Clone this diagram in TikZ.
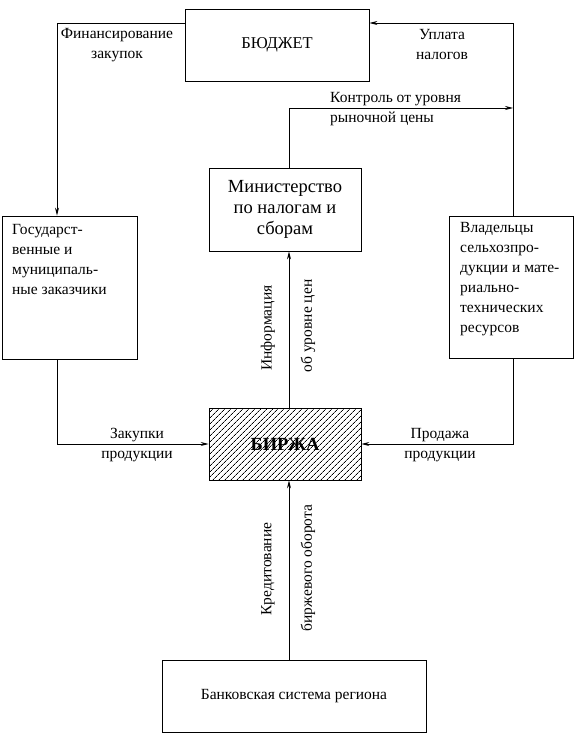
\documentclass[tikz,border=0pt]{standalone}
\usepackage{fontspec}
\setmainfont{Liberation Serif}
\usetikzlibrary{arrows.meta,patterns.meta}
\begin{document}
\begin{tikzpicture}[x=1pt,y=-1pt,
  box/.style={draw,line width=0.8pt,inner sep=0pt},
  conn/.style={line width=0.8pt},
  arr/.style={conn,-{Stealth[length=8pt,width=4pt]}},
  lbl/.style={inner sep=0pt,align=center,font=\fontsize{15.5}{20}\selectfont},
  lbll/.style={inner sep=0pt,align=left,font=\fontsize{15.5}{20}\selectfont},
]
\useasboundingbox (0,0) rectangle (579,735);
% boxes
\node[box,minimum width=184pt,minimum height=72pt,font=\fontsize{16.5}{20}\selectfont] (budget) at (277,45) {БЮДЖЕТ};
\node[box,minimum width=152pt,minimum height=83pt,align=center,font=\fontsize{18.5}{21}\selectfont] (min) at (285,209.5) {Министерство\\по налогам и\\сборам};
\node[box,minimum width=135pt,minimum height=143pt] (gos) at (69.5,287.5) {};
\node[box,minimum width=124pt,minimum height=142pt] (vlad) at (511,287) {};
\node[box,minimum width=152pt,minimum height=72pt,pattern={Lines[angle=45,distance=4pt,line width=0.7pt]},font=\fontsize{18.5}{20}\selectfont\bfseries] (birzha) at (285,444) {БИРЖА};
\node[box,minimum width=264pt,minimum height=72pt,font=\fontsize{15.5}{20}\selectfont] (bank) at (294,696) {Банковская система региона};
% box texts
\node[lbll,anchor=north west] (gostext) at (12,224) {Государст-\\венные и\\муниципаль-\\ные заказчики};
\node[lbll,anchor=north west] (vladtext) at (460,222) {Владельцы\\сельхозпро-\\дукции и мате-\\риально-\\технических\\ресурсов};
% coordinates
\coordinate (c1) at (57,23);
\coordinate (c2) at (513,23);
\coordinate (c4) at (289,108);
\coordinate (c3) at (513,108);
% connectors
\draw[arr] (budget.west |- c1) -| (gos.north -| c1);
\draw[arr] (vlad.north -| c2) |- (budget.east |- c2);
\draw[arr] (min.north -| c4) |- (c3);
\draw[arr] (birzha.north -| c4) -- (min.south -| c4);
\draw[arr] (gos.south -| c1) |- (birzha.west);
\draw[arr] (vlad.south -| c2) |- (birzha.east);
\draw[arr] (bank.north -| c4) -- (birzha.south -| c4);
% labels
\node[lbl] (l1) at (117,45) {Финансирование\\закупок};
\node[lbl] (l2) at (442,45) {Уплата\\налогов};
\node[lbll,anchor=west] (l3) at (330,109) {Контроль от уровня\\рыночной цены};
\node[lbl,rotate=90] (l4) at (268,328) {Информация};
\node[lbl,rotate=90] (l5) at (308,326) {об уровне цен};
\node[lbl] (l6) at (137,445) {Закупки\\продукции};
\node[lbl] (l7) at (440,445) {Продажа\\продукции};
\node[lbl,rotate=90] (l8) at (268,569) {Кредитование};
\node[lbl,rotate=90] (l9) at (308,568) {биржевого оборота};
\end{tikzpicture}
\end{document}
